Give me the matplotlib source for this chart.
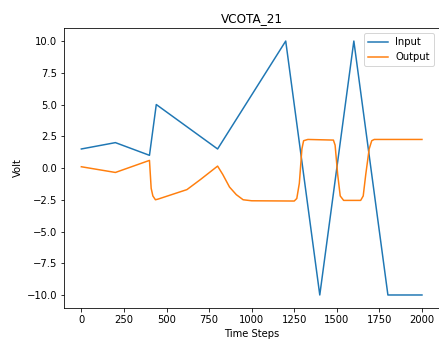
import numpy as np
import matplotlib.pyplot as plt

# input waveform (piecewise linear)
t_in = [0, 200, 400, 440, 800, 1200, 1400, 1600, 1800, 2000]
v_in = [1.5, 2.0, 1.0, 5.0, 1.5, 10.0, -10.0, 10.0, -10.0, -10.0]

# output response
t_out = [0, 200, 400, 405, 410, 420, 435, 450, 620, 700, 800, 830, 870, 910,
         950, 1000, 1250, 1265, 1280, 1295, 1305, 1330, 1480, 1490, 1505,
         1520, 1540, 1640, 1655, 1670, 1690, 1705, 1720, 2000]
v_out = [0.1, -0.35, 0.6, -0.5, -1.6, -2.2, -2.5, -2.45, -1.7, -0.9, 0.15,
         -0.5, -1.5, -2.1, -2.5, -2.58, -2.6, -2.4, -1.2, 1.5, 2.15, 2.25,
         2.2, 1.8, -0.5, -2.2, -2.55, -2.55, -2.2, -0.5, 1.5, 2.15, 2.25, 2.25]

fig = plt.figure(figsize=(439/72, 347/72), dpi=72)
ax = fig.add_axes([0.1465, 0.1133, 0.8535, 0.805])
ax.plot(t_in, v_in, label='Input')
ax.plot(t_out, v_out, label='Output')
ax.set_title('VCOTA_21')
ax.set_xlabel('Time Steps')
ax.set_ylabel('Volt')
ax.set_xticks(np.arange(0, 2001, 250))
ax.set_yticks(np.arange(-10, 10.1, 2.5))
ax.legend(loc='upper right')
fig.savefig('out.png', dpi=72)
